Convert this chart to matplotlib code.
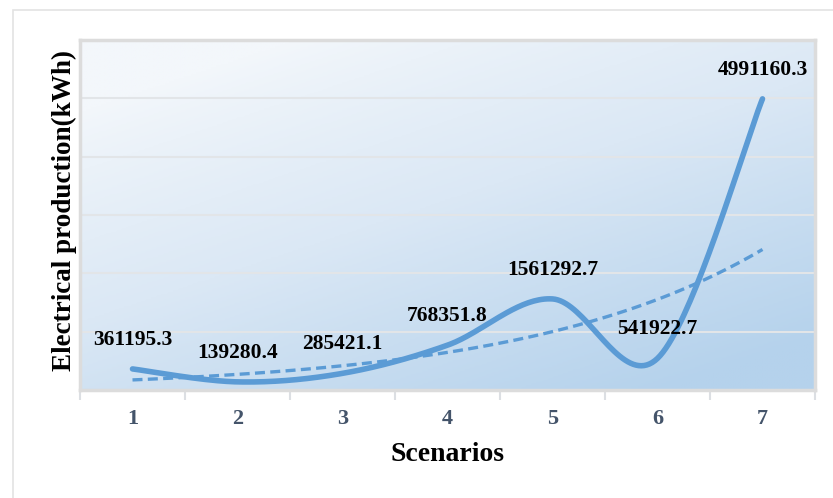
import numpy as np
import matplotlib.pyplot as plt
from matplotlib.colors import LinearSegmentedColormap
from matplotlib.patches import Rectangle

scenarios = [1, 2, 3, 4, 5, 6, 7]
production = [361195.3, 139280.4, 285421.1, 768351.8, 1561292.7, 541922.7, 4991160.3]
labels = ['361195.3', '139280.4', '285421.1', '768351.8', '1561292.7', '541922.7', '4991160.3']

plt.rcParams['font.family'] = ['Liberation Serif', 'DejaVu Serif']


def smooth_curve(x, y, n=40):
    # catmull-rom style smoothing, like the spreadsheet "smoothed line"
    x = np.asarray(x, float)
    y = np.asarray(y, float)
    px = np.concatenate([[x[0]], x, [x[-1]]])
    py = np.concatenate([[y[0]], y, [y[-1]]])
    xs, ys = [], []
    for i in range(1, len(px) - 2):
        p0 = np.array([px[i], py[i]])
        p3 = np.array([px[i + 1], py[i + 1]])
        c1 = p0 + (p3 - np.array([px[i - 1], py[i - 1]])) / 6
        c2 = p3 - (np.array([px[i + 2], py[i + 2]]) - p0) / 6
        t = np.linspace(0, 1, n)[:, None]
        pts = (1 - t) ** 3 * p0 + 3 * (1 - t) ** 2 * t * c1 + 3 * (1 - t) * t ** 2 * c2 + t ** 3 * p3
        xs.append(pts[:, 0])
        ys.append(pts[:, 1])
    return np.concatenate(xs), np.concatenate(ys)


fig = plt.figure(figsize=(8.33, 4.98), dpi=100)
ax = fig.add_axes([80 / 833, 1 - 390 / 498, 735 / 833, 350 / 498])

# outer chart frame
fig.patches.append(Rectangle((13 / 833, -0.01), 1.0, 1 - 10 / 498 + 0.01, transform=fig.transFigure,
                             fill=False, edgecolor='#E3E3E3', linewidth=1.2))

# gradient background, light top-left to blue bottom-right
gx, gy = np.meshgrid(np.linspace(0, 1, 300), np.linspace(0, 1, 200))
t = np.clip((gx * 0.7 + gy * 1.0) / 1.7, 0, 1)
t = np.clip((t - 0.12) / 0.8, 0, 1) ** 0.85
cmap = LinearSegmentedColormap.from_list('bg', ['#F3F7FB', '#DBE8F5', '#B5D2EC'])
ax.imshow(t, cmap=cmap, extent=[0.5, 7.5, 0, 6000000], origin='upper', aspect='auto', zorder=0)

ax.set_xlim(0.5, 7.5)
ax.set_ylim(0, 6000000)

for yv in range(1000000, 6000001, 1000000):
    ax.axhline(yv, color='#E2E5E8', linewidth=1.5, zorder=1)

sx, sy = smooth_curve(scenarios, production)
ax.plot(sx, sy, color='#5B9BD5', linewidth=4.0, solid_capstyle='round', zorder=3)

# exponential trendline
b, a = np.polyfit(scenarios, np.log(production), 1)
tx = np.linspace(1, 7, 100)
ax.plot(tx, np.exp(a + b * tx), color='#5B9BD5', linewidth=2.4, linestyle=(0, (3, 1.6)), zorder=2)

for xv, yv, lab in zip(scenarios, production, labels):
    ax.annotate(lab, (xv, yv), xytext=(0, 21), textcoords='offset points', ha='center', va='center',
                fontsize=15.5, fontweight='bold', color='black', zorder=4)

ax.set_xticks(np.arange(0.5, 7.6, 1))
ax.set_xticklabels([])
ax.set_xticks(scenarios, minor=True)
ax.set_xticklabels([str(s) for s in scenarios], minor=True)
ax.tick_params(axis='x', which='major', length=7, width=1.5, color='#DCDFE3', direction='out')
ax.tick_params(axis='x', which='minor', length=0, pad=14, labelsize=16, labelcolor='#44546A')
for lab in ax.get_xticklabels(minor=True):
    lab.set_fontweight('bold')
ax.set_yticks([])

for side in ['left', 'right', 'top', 'bottom']:
    ax.spines[side].set_color('#DCDCDC')
    ax.spines[side].set_linewidth(2.5)

ax.set_xlabel('Scenarios', fontsize=20, fontweight='bold', labelpad=9)
ax.set_ylabel('Electrical production(kWh)', fontsize=19.5, fontweight='bold')
ax.yaxis.set_label_coords(-0.004, 0.512)

fig.savefig('out.png', dpi=100)
